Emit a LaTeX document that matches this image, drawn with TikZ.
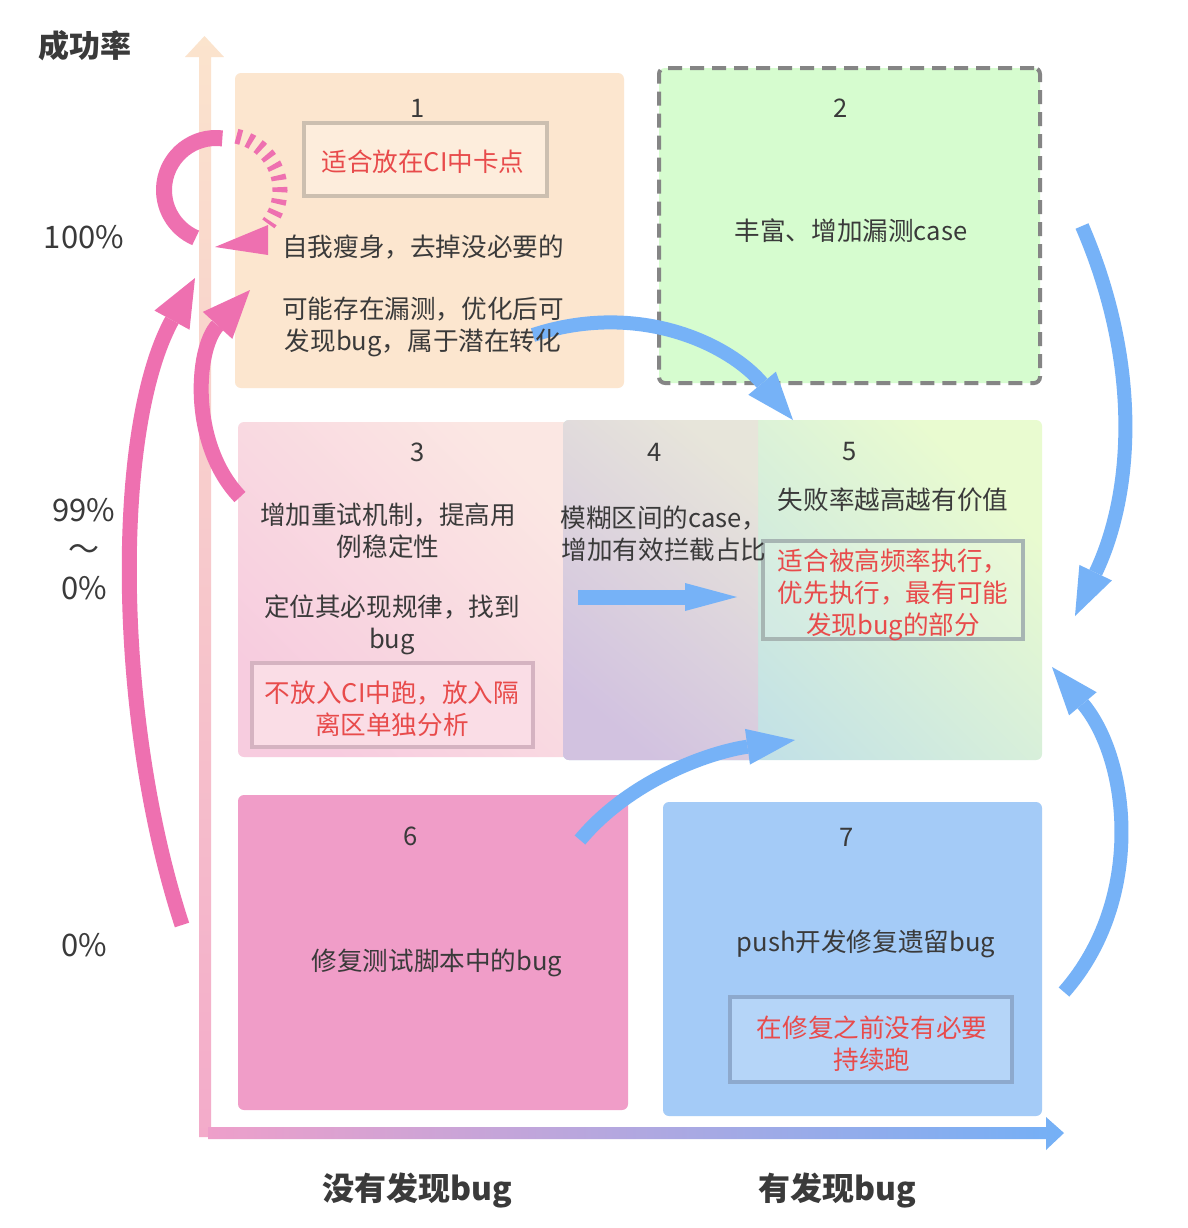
\documentclass[tikz,border=0pt]{standalone}
\usepackage{fontspec}
\newfontfamily\cjk{Noto Sans CJK SC}
\usetikzlibrary{arrows.meta,fit}
\definecolor{txtc}{HTML}{3A3A3A}
\definecolor{redc}{HTML}{E84B4B}
\definecolor{pinkc}{HTML}{EE70B0}
\definecolor{bluec}{HTML}{76B2F7}
\definecolor{b1c}{HTML}{FCE6CF}
\definecolor{b1tagd}{HTML}{CCBFB0}
\definecolor{b1tagf}{HTML}{FDEDDC}
\definecolor{b2c}{HTML}{D6FCCF}
\definecolor{dashc}{HTML}{858585}
\definecolor{b3top}{HTML}{FBE7E3}
\definecolor{b3bot}{HTML}{F7CCDF}
\definecolor{b3tagd}{HTML}{D5B3C1}
\definecolor{b3tagf}{HTML}{FADDE6}
\definecolor{b4top}{HTML}{E7E5DA}
\definecolor{b4bot}{HTML}{D2C2E0}
\definecolor{b5top}{HTML}{E9FBD0}
\definecolor{b5bot}{HTML}{BBDCEA}
\definecolor{b5tagd}{HTML}{A7B5B3}
\definecolor{b6c}{HTML}{F09DC8}
\definecolor{b7c}{HTML}{A4CBF7}
\definecolor{b7tagd}{HTML}{8DA9CD}
\definecolor{b7tagf}{HTML}{B5D5F8}
\definecolor{axtop}{HTML}{FBE4CD}
\definecolor{axbot}{HTML}{F3ABCA}
\definecolor{axleft}{HTML}{EE9FCA}
\definecolor{axright}{HTML}{74B0F6}
\begin{document}
\begin{tikzpicture}[x=0.5pt,y=-0.5pt,
  txt/.style={font=\cjk\fontsize{12.8}{16}\selectfont, text=txtc, align=center, inner sep=0pt},
  redtxt/.style={txt, text=redc},
  numtxt/.style={font=\cjk\fontsize{12.8}{15}\selectfont, text=txtc, inner sep=0pt},
  axlab/.style={font=\cjk\bfseries\fontsize{16}{19}\selectfont, text=txtc, inner sep=0pt},
  pct/.style={font=\cjk\fontsize{15.5}{19.5}\selectfont, text=txtc, align=center, inner sep=0pt},
  box/.style={rounded corners=3pt, inner sep=0pt},
  tag/.style={inner sep=0pt, line width=2pt},
  pinkarr/.style={draw=pinkc, line width=7.5pt, -{Triangle[length=24pt,width=20pt,line width=0pt]}},
  bluearr/.style={draw=bluec, line width=7pt, -{Triangle[length=24pt,width=18pt,line width=0pt]}},
  loopline/.style={draw=pinkc, line width=8pt},
  dashloop/.style={draw=pinkc, line width=7.5pt, dash pattern=on 2.5pt off 3.5pt},
]
\fill[white] (0,0) rectangle (1188,1228);
\useasboundingbox (0,0) rectangle (1188,1228);

% axes
\shade[top color=axtop, bottom color=axbot]
  (199,1137) -- (199,57) -- (185,57) -- (204.5,36) -- (224,57) -- (211,57) -- (211,1137) -- cycle;
\shade[left color=axleft, right color=axright]
  (208,1127) -- (1046,1127) -- (1046,1117) -- (1064,1133) -- (1046,1150) -- (1046,1139) -- (208,1139) -- cycle;

% boxes
\node[box, fill=b1c, fit={(235,73) (624,388)}] (b1) {};
\node[box, fill=b2c, draw=dashc, line width=2pt, dash pattern=on 7pt off 4pt, fit={(659,68) (1040,383)}] (b2) {};
\node[box, top color=b3top, bottom color=b3bot, shading angle=-45, fit={(238,422) (575,757)}] (b3) {};
\node[box, top color=b5top, bottom color=b5bot, shading angle=-45, fit={(563,420) (1042,760)}] (b5) {};
\begin{scope}
  \clip (555,410) rectangle (758,770);
  \shade[rounded corners=3pt, top color=b4top, bottom color=b4bot, shading angle=-40] (563,420) rectangle (775,760);
\end{scope}
\coordinate (b4) at (660,590);
\node[box, fill=b6c, fit={(238,795) (628,1110)}] (b6) {};
\node[box, fill=b7c, fit={(663,802) (1042,1116)}] (b7) {};

% inner tag boxes
\node[tag, draw=b1tagd, fill=b1tagf, fit={(304,123) (547,196)}] (t1) {};
\node[tag, draw=b3tagd, fill=b3tagf, fit={(252,663) (533,747)}] (t3) {};
\node[tag, draw=b5tagd, fill=white, fill opacity=0.12, fit={(763,541) (1023,639)}] (t5) {};
\node[tag, draw=b7tagd, fill=b7tagf, fit={(730,997) (1012,1082)}] (t7) {};

% pink arrows
\coordinate (pa0) at (182,925); \coordinate (pa1) at (195,278);
\draw[pinkarr] (pa0) .. controls (115,720) and (112,430) .. (pa1);
\coordinate (pb0) at (240,497); \coordinate (pb1) at (250,290);
\draw[pinkarr] (pb0) .. controls (190,445) and (195,350) .. (pb1);
% self loop
\coordinate (lc) at (216,190);
\coordinate (dc) at (225,190);
\draw[loopline] (lc) ++(-83:52) arc[start angle=-83, end angle=-247, radius=52];
\draw[dashloop] (dc) ++(-78:55) arc[start angle=-78, end angle=38, radius=55];
\coordinate (lt) at (215,247);
\fill[pinkc] (lt) -- (268,225) -- (268,255) -- cycle;

% blue arrows
\coordinate (ba0) at (533,335); \coordinate (ba1) at (793,420);
\draw[bluearr] (ba0) .. controls (640,300) and (730,345) .. (ba1);
\coordinate (bb0) at (578,597); \coordinate (bb1) at (737,597);
\draw[draw=bluec, line width=7.5pt, -{Triangle[length=26pt,width=14pt,line width=0pt]}] (bb0) -- (bb1);
\coordinate (bc0) at (580,840); \coordinate (bc1) at (795,740);
\draw[bluearr] (bc0) .. controls (630,780) and (710,752) .. (bc1);
\coordinate (bd0) at (1082,226); \coordinate (bd1) at (1075,616);
\draw[bluearr] (bd0) .. controls (1140,360) and (1135,490) .. (bd1);
\coordinate (be0) at (1064,992); \coordinate (be1) at (1052,667);
\draw[bluearr] (be0) .. controls (1145,900) and (1130,760) .. (be1);

% texts box 1
\node[numtxt] (n1) at (418,108) {1};
\node[redtxt] (r1) at (423,162) {适合放在CI中卡点};
\node[txt] (x1a) at (423,247) {自我瘦身，去掉没必要的};
\node[txt] (x1b) at (423,327) {可能存在漏测，优化后可\\发现bug，属于潜在转化};
% box 2
\node[numtxt] (n2) at (841,108) {2};
\node[txt] (x2) at (851,231) {丰富、增加漏测case};
% box 3
\node[numtxt] (n3) at (418,452) {3};
\node[txt] (x3a) at (388,531) {增加重试机制，提高用\\例稳定性};
\node[txt] (x3b) at (392,625) {定位其必现规律，找到\\bug};
\node[redtxt] (r3) at (392,709) {不放入CI中跑，放入隔\\离区单独分析};
% box 4
\node[numtxt] (n4) at (655,452) {4};
\node[txt] (x4) at (664,534) {模糊区间的case，\\增加有效拦截占比};
% box 5
\node[numtxt] (n5) at (850,452) {5};
\node[txt] (x5) at (893,500) {失败率越高越有价值};
\node[redtxt] (r5) at (893,595) {适合被高频率执行，\\优先执行，最有可能\\发现bug的部分};
% box 6
\node[numtxt] (n6) at (411,836) {6};
\node[txt] (x6) at (437,963) {修复测试脚本中的bug};
% box 7
\node[numtxt] (n7) at (847,837) {7};
\node[txt] (x7) at (866,944) {push开发修复遗留bug};
\node[redtxt] (r7) at (872,1044) {在修复之前没有必要\\持续跑};

% axis labels
\node[axlab, font=\cjk\bfseries\fontsize{15.5}{19}\selectfont] (ylab) at (85,46) {成功率};
\node[pct] (p100) at (84,237) {100\%};
\node[pct] (p99) at (84,549) {99\%\\～\\0\%};
\node[pct] (p0) at (84,945) {0\%};
\node[axlab] (xl1) at (417,1190) {没有发现bug};
\node[axlab] (xl2) at (837,1190) {有发现bug};
\end{tikzpicture}
\end{document}
